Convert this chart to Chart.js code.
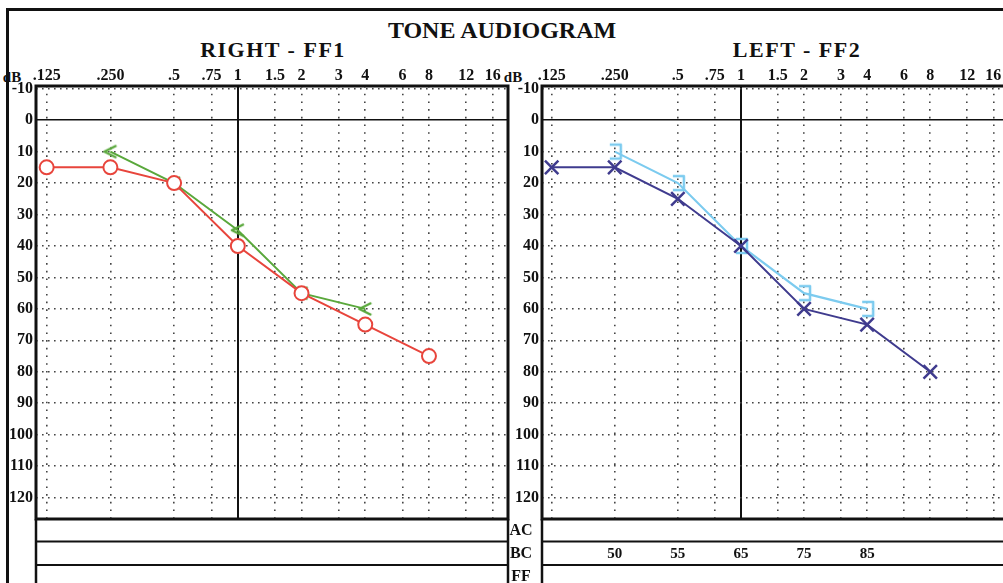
<!DOCTYPE html>
<html>
<head>
<meta charset="utf-8">
<script src="https://cdn.jsdelivr.net/npm/chart.js@4.4.0/dist/chart.umd.min.js"></script>
<style>
  body { margin: 0; width: 1003px; height: 583px; overflow: hidden; background: #fff; position: relative; }
  .t { position: absolute; font-family: "Liberation Serif", serif; font-weight: bold; color: #111; white-space: nowrap; transform: translate(-50%, -50%); }
  canvas { position: absolute; top: 0; }
</style>
</head>
<body>
<div style="position:absolute;left:6px;top:8px;width:1100px;height:700px;border-left:3px solid #111;border-top:3px solid #111"></div>
<div class="t" style="left:502px;top:30px;font-size:24px">TONE AUDIOGRAM</div>
<div class="t" style="left:273px;top:50px;font-size:22px;letter-spacing:1.5px">RIGHT - FF1</div>
<div class="t" style="left:797px;top:50px;font-size:22px;letter-spacing:1.5px">LEFT - FF2</div>
<div class="t" style="left:12px;top:77px;font-size:15px">dB</div>
<div class="t" style="left:513px;top:77px;font-size:15px">dB</div>
<canvas id="earRight" width="520" height="583" style="left:0"></canvas>
<canvas id="earLeft" width="520" height="583" style="left:500px"></canvas>
<script>
const freqTicks = [0.125, 0.25, 0.5, 0.75, 1, 1.5, 2, 3, 4, 6, 8, 12, 16];
const freqLabels = ['.125', '.250', '.5', '.75', '1', '1.5', '2', '3', '4', '6', '8', '12', '16'];
const dbTicks = [-10, 0, 10, 20, 30, 40, 50, 60, 70, 80, 90, 100, 110, 120];

const acFreqs = [0.125, 0.25, 0.5, 1, 2, 4, 8];
const ffFreqs = [0.25, 0.5, 1, 2, 4];
const rightCircle = [15, 15, 20, 40, 55, 65, 75];
const rightFF = [10, 20, 35, 55, 60];
const leftCross = [15, 15, 25, 40, 60, 65, 80];
const leftFF = [10, 20, 40, 55, 60];

const tableRows = ['AC', 'BC', 'FF'];
const bcFreqs = [0.25, 0.5, 1, 2, 4];
const bcValues = [50, 55, 65, 75, 85];

const RED = '#e8453c', GREEN = '#5aa83c', NAVY = '#3f3b8e', SKY = '#7ccbef';
const FONT = '"Liberation Serif", serif';

function pts(xs, ys) {
    return xs.map((x, i) => ({ x: x, y: ys[i] }));
}

function marker(draw) {
    const c = document.createElement('canvas');
    c.width = 22; c.height = 22;
    const g = c.getContext('2d');
    g.lineWidth = 2.5;
    g.lineJoin = 'round';
    draw(g);
    return c;
}
const lessMark = marker(g => {
    g.strokeStyle = GREEN;
    g.beginPath(); g.moveTo(17, 5); g.lineTo(5, 11); g.lineTo(17, 17); g.stroke();
});
const bracketMark = marker(g => {
    g.strokeStyle = SKY;
    g.beginPath(); g.moveTo(6, 4); g.lineTo(17, 4); g.lineTo(17, 18); g.lineTo(6, 18); g.stroke();
});

// frame round the plot and the table rows under it
const framePlugin = {
    id: 'frame',
    afterDraw(chart, args, opts) {
        const ctx = chart.ctx, a = chart.chartArea;
        ctx.save();
        ctx.strokeStyle = '#111';
        ctx.lineWidth = 3;
        ctx.strokeRect(a.left, a.top, a.right - a.left, a.bottom - a.top);
        ctx.lineWidth = 2.5;
        ctx.beginPath();
        ctx.moveTo(a.left, a.bottom); ctx.lineTo(a.left, chart.height);
        ctx.moveTo(a.right, a.bottom); ctx.lineTo(a.right, chart.height);
        ctx.stroke();
        ctx.lineWidth = 1.8;
        ctx.beginPath();
        [22.5, 46].forEach(d => { ctx.moveTo(a.left, a.bottom + d); ctx.lineTo(a.right, a.bottom + d); });
        ctx.stroke();
        ctx.fillStyle = '#111';
        ctx.textAlign = 'center';
        ctx.textBaseline = 'middle';
        ctx.font = 'bold 16px ' + FONT;
        if (opts.rows) {
            tableRows.forEach((r, i) => ctx.fillText(r, a.left - 21, a.bottom + 12 + i * 23));
        }
        if (opts.bc) {
            const xs = chart.scales.x;
            ctx.font = 'bold 15px ' + FONT;
            bcFreqs.forEach((f, i) => ctx.fillText(String(bcValues[i]), xs.getPixelForValue(f), a.bottom + 35));
        }
        ctx.restore();
    }
};

function makeOptions(xmin, xmax, pad, frameOpts) {
    return {
        responsive: false,
        animation: false,
        layout: { padding: pad },
        plugins: { legend: { display: false }, tooltip: { enabled: false }, frame: frameOpts },
        scales: {
            x: {
                type: 'logarithmic',
                position: 'top',
                min: xmin,
                max: xmax,
                afterBuildTicks: s => { s.ticks = freqTicks.map(v => ({ value: v })); },
                afterFit: s => { s.height = 24; s.paddingLeft = 0; s.paddingRight = 0; },
                ticks: {
                    autoSkip: false, maxRotation: 0, padding: 1, color: '#111',
                    font: { family: FONT, weight: 'bold', size: 16 },
                    callback: (v, i) => freqLabels[i]
                },
                grid: {
                    drawTicks: false,
                    color: c => (c.tick && c.tick.value === 1) ? '#111' : '#444',
                    lineWidth: c => (c.tick && c.tick.value === 1) ? 2 : 1.6
                },
                border: {
                    display: false,
                    dash: c => (c.tick && c.tick.value === 1) ? [] : [1.6, 6.1]
                }
            },
            y: {
                type: 'linear',
                reverse: true,
                min: -10.86,
                max: 126.8,
                afterBuildTicks: s => { s.ticks = dbTicks.map(v => ({ value: v })); },
                afterFit: s => { s.width = 30; s.paddingTop = 0; s.paddingBottom = 0; },
                ticks: {
                    autoSkip: false, padding: 3, color: '#111',
                    font: { family: FONT, weight: 'bold', size: 16 },
                    callback: v => String(v)
                },
                grid: {
                    drawTicks: false,
                    color: c => (c.tick && c.tick.value === 0) ? '#111' : '#444',
                    lineWidth: 1.6
                },
                border: {
                    display: false,
                    dash: c => (c.tick && c.tick.value === 0) ? [] : [1.6, 4.4]
                }
            }
        }
    };
}

new Chart(document.getElementById('earRight'), {
    type: 'line',
    data: {
        datasets: [{
            data: pts(acFreqs, rightCircle),
            borderColor: RED, borderWidth: 2,
            pointStyle: 'circle', pointRadius: 7, pointBorderWidth: 2,
            pointBorderColor: RED, pointBackgroundColor: '#fff'
        }, {
            data: pts(ffFreqs, rightFF),
            borderColor: GREEN, borderWidth: 2,
            pointStyle: lessMark
        }]
    },
    options: makeOptions(0.1113, 18.9, { left: 6, right: 12, top: 62, bottom: 64 }, { rows: false, bc: false }),
    plugins: [framePlugin]
});

new Chart(document.getElementById('earLeft'), {
    type: 'line',
    data: {
        datasets: [{
            data: pts(acFreqs, leftCross),
            borderColor: NAVY, borderWidth: 2,
            pointStyle: 'crossRot', pointRadius: 9.5, pointBorderWidth: 2.5,
            pointBorderColor: NAVY
        }, {
            data: pts(ffFreqs, leftFF),
            borderColor: SKY, borderWidth: 2.2,
            pointStyle: bracketMark
        }]
    },
    options: makeOptions(0.1124, 18.8, { left: 12, right: 12, top: 62, bottom: 64 }, { rows: true, bc: true }),
    plugins: [framePlugin]
});
</script>
</body>
</html>
